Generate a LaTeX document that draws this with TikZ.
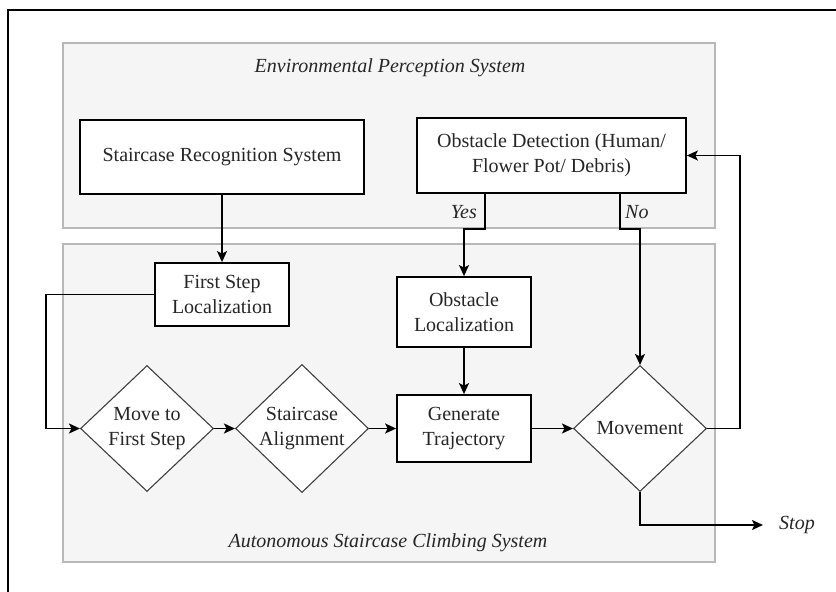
\documentclass[tikz,border=0pt]{standalone}
\usepackage{fontspec}
\setmainfont{Liberation Serif}
\usetikzlibrary{shapes.geometric,arrows.meta}
\begin{document}
\begin{tikzpicture}[x=1pt,y=-1pt,
  every node/.style={font=\fontsize{20}{25}\selectfont, text=black!85},
  panel/.style={draw=black!28, fill=black!4, line width=1.5pt, inner sep=0pt},
  procbox/.style={draw=black, fill=white, line width=1.8pt, align=center, inner sep=0pt},
  decision/.style={diamond, draw=black!75, fill=white, line width=1.1pt, align=center,
    inner sep=0pt, minimum width=133pt, minimum height=126pt},
  caption/.style={font=\fontsize{20}{25}\selectfont\itshape},
  flow/.style={line width=1.8pt, -{Stealth[length=11pt,width=10pt,inset=2.5pt]}},
  frameline/.style={line width=1.8pt}
]
\useasboundingbox (0,0) rectangle (836,592);

% outer frame (top and left edges)
\draw[frameline] (836,10) -- (8,10) -- (8,592);

% system panels
\node[panel, minimum width=652pt, minimum height=185pt] (envpanel) at (389,135.5) {};
\node[panel, minimum width=652pt, minimum height=318pt] (climbpanel) at (389,403) {};
\node[caption] (envtitle) at (390,68) {Environmental Perception System};
\node[caption] (climbtitle) at (388,543) {Autonomous Staircase Climbing System};

% perception blocks
\node[procbox, minimum width=284pt, minimum height=74pt] (srs) at (222,157) {Staircase Recognition System};
\node[procbox, minimum width=269pt, minimum height=75pt] (od) at (551.5,155.5) {Obstacle Detection (Human/\\Flower Pot/ Debris)};

% climbing blocks
\node[procbox, minimum width=134pt, minimum height=63pt] (fsl) at (222,294.5) {First Step\\Localization};
\node[procbox, minimum width=134pt, minimum height=70pt] (ol) at (464,312) {Obstacle\\Localization};
\node[procbox, minimum width=134pt, minimum height=67pt] (gt) at (464,428.5) {Generate\\Trajectory};
\node[decision] (mfs) at (147,428.5) {Move to\\First Step};
\node[decision] (sa) at (302,428.5) {Staircase\\Alignment};
\node[decision] (mv) at (640,428.5) {Movement};

\node[caption, inner sep=0pt, anchor=west] (stop) at (779,525) {Stop};

% routing points
\coordinate (yesjog) at (464,229);
\coordinate (nojog) at (640,229);
\coordinate (leftrail) at (46,0);
\coordinate (rightrail) at (740,0);

% connectors
\draw[flow] (srs.south) -- (fsl.north);
\draw[flow] ([xshift=-66.5pt]od.south) |- (yesjog) -- (ol.north);
\draw[flow] ([xshift=68.5pt]od.south) |- (nojog) -- (mv.north);
\node[caption, anchor=east, inner sep=0pt] (yes) at (477,212) {Yes};
\node[caption, anchor=west, inner sep=0pt] (no) at (625,212) {No};
\draw[flow] (fsl.west) -- (fsl.west -| leftrail) |- (mfs.west);
\draw[flow] (mfs.east) -- (sa.west);
\draw[flow] (sa.east) -- (gt.west);
\draw[flow] (ol.south) -- (gt.north);
\draw[flow] (gt.east) -- (mv.west);
\draw[flow] (mv.east) -- (mv.east -| rightrail) |- (od.east);
\draw[flow, shorten >=16pt] (mv.south) |- (stop.west);
\end{tikzpicture}
\end{document}
